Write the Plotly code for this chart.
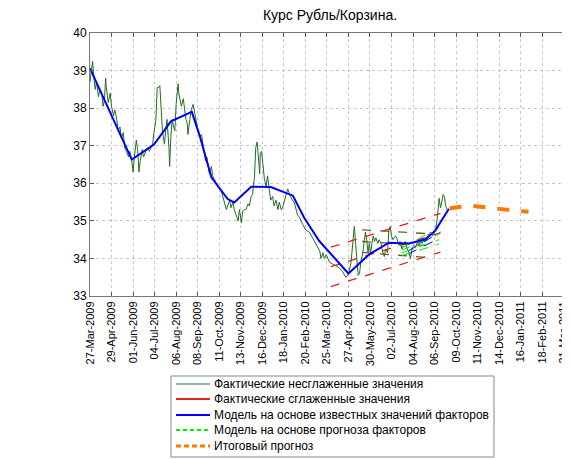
import plotly.graph_objects as go
import pandas as pd

# ---------------- data ----------------
start_date = "2009-03-27"
tick_step_days = 33
tick_labels = ["27-Mar-2009", "29-Apr-2009", "01-Jun-2009", "04-Jul-2009", "06-Aug-2009",
               "08-Sep-2009", "11-Oct-2009", "13-Nov-2009", "16-Dec-2009", "18-Jan-2010",
               "20-Feb-2010", "25-Mar-2010", "27-Apr-2010", "30-May-2010", "02-Jul-2010",
               "04-Aug-2010", "06-Sep-2010", "09-Oct-2010", "11-Nov-2010", "14-Dec-2010",
               "16-Jan-2011", "18-Feb-2011", "31-Mar-2011"]
axis_end_date = "2011-03-31"

# raw (unsmoothed) values: days since start_date, values
raw_days = [0, 2.5, 4, 6, 8, 10, 13, 15, 18, 20, 22, 24, 25, 28, 31, 33, 36, 38, 41, 43,
            46, 48, 51, 53, 56, 59, 61, 64, 66, 68, 71, 73, 75, 77, 80, 82, 85, 88, 91, 93,
            96, 98, 101, 103, 105, 107, 109, 111, 114, 116, 118, 121, 122, 124, 126, 128, 130, 132, 135, 136,
            138, 140, 143, 145, 147, 149, 150, 153, 155, 158, 160, 162, 164, 166, 168, 171, 173, 175, 177, 179,
            181, 183, 186, 188, 191, 193, 196, 201, 204, 206, 209, 211, 214, 216, 219, 221, 224, 227, 229, 232,
            234, 237, 239, 242, 244, 247, 249, 252, 254, 256, 258, 260, 261, 263, 265, 267, 270, 272, 275, 277,
            280, 282, 285, 288, 290, 293, 295, 298, 300, 303, 305, 308, 310, 313, 316, 318, 321, 326, 331, 336,
            341, 346, 352, 354, 357, 359, 362, 367, 372, 377, 382, 387, 392, 395, 397, 400, 402, 404, 405, 407,
            409, 411, 413, 415, 418, 420, 422, 424, 426, 428, 430, 432, 434, 436, 438, 441, 443, 446, 448, 451,
            453, 456, 458, 460, 462, 464, 468, 470, 473, 475, 478, 480, 483, 485, 489, 491, 494, 497, 499, 502,
            504, 507, 509, 512, 514, 517, 519, 522, 525, 527, 530, 532, 534, 535, 537, 538, 540, 541, 543, 545,
            547]
raw_values = [38.70, 39.00, 39.25, 38.80, 38.50, 38.70, 38.30, 38.50, 38.40, 38.05, 38.20, 38.80, 38.55, 38.15, 38.40, 38.05, 37.80, 37.95, 37.70, 37.40,
              37.50, 37.20, 37.35, 36.95, 36.85, 36.70, 36.85, 36.60, 36.30, 36.70, 37.15, 36.90, 36.30, 36.60, 36.90, 36.70, 36.85, 36.95, 36.85, 36.95,
              37.05, 37.35, 37.70, 38.55, 38.55, 38.60, 38.10, 37.40, 37.05, 37.35, 37.70, 36.95, 36.45, 37.25, 37.70, 37.50, 37.40, 38.10, 38.65, 38.40,
              38.20, 38.05, 38.25, 37.90, 37.70, 37.60, 37.30, 37.70, 37.95, 38.10, 37.90, 37.80, 37.60, 37.35, 37.25, 37.30, 37.05, 36.80, 36.60, 36.70,
              36.45, 36.25, 36.45, 36.20, 36.10, 36.00, 35.90, 35.80, 35.60, 35.50, 35.30, 35.40, 35.55, 35.35, 35.50, 35.30, 35.15, 35.00, 35.30, 34.95,
              35.25, 35.30, 35.30, 35.45, 35.40, 35.65, 35.70, 36.15, 36.95, 37.10, 36.70, 36.25, 36.80, 36.85, 36.50, 36.15, 35.90, 36.20, 35.80, 35.55,
              35.65, 35.40, 35.55, 35.30, 35.50, 35.30, 35.35, 35.55, 35.65, 35.85, 35.75, 35.60, 35.55, 35.50, 35.25, 35.15, 35.10, 34.90, 34.75, 34.70,
              34.55, 34.40, 34.20, 34.00, 34.15, 34.00, 34.10, 33.90, 33.85, 33.80, 33.75, 33.65, 33.50, 33.55, 33.65, 33.90, 34.30, 34.75, 34.85, 34.40,
              33.95, 33.55, 33.60, 33.90, 34.15, 34.40, 34.70, 34.50, 34.15, 34.40, 34.15, 34.40, 34.60, 34.45, 34.55, 34.40, 34.50, 34.40, 34.20, 34.05,
              34.25, 34.15, 34.75, 34.85, 34.60, 34.50, 34.60, 34.55, 34.35, 34.45, 34.25, 34.35, 34.45, 34.30, 34.15, 34.00, 34.30, 34.35, 34.30, 34.45,
              34.35, 34.45, 34.40, 34.50, 34.45, 34.55, 34.65, 34.70, 34.60, 34.65, 34.80, 35.05, 35.45, 35.60, 35.35, 35.40, 35.60, 35.70, 35.65, 35.40,
              35.30]

# model on known factor values
model_days = [0, 64, 98, 124, 156, 168, 186, 211, 221, 247, 277, 311, 328, 351, 396, 428, 458, 489, 514, 529, 550]
model_values = [39.06, 36.63, 37.03, 37.65, 37.90, 37.27, 36.16, 35.58, 35.49, 35.91, 35.90, 35.67, 35.09, 34.47, 33.60, 34.11, 34.42, 34.40, 34.51, 34.74, 35.32]

# final forecast
forecast_days = [551, 565, 585, 605, 625, 648, 672]
forecast_values = [35.33, 35.37, 35.40, 35.37, 35.32, 35.28, 35.24]

# smoothed actual values channel (red)
channel_days = [369, 537]
channel_upper = [34.30, 35.20]
channel_middle = [33.78, 34.68]
channel_lower = [33.25, 34.17]

# flat channel (olive)
flat_days = [417, 527]
flat_upper = [34.76, 34.65]
flat_middle = [34.45, 34.33]
flat_lower = [34.16, 34.01]

# model on forecast of factors (green dashed) and its blue dashed bounds
factor_days = [478, 535]
factor_line_1 = [34.28, 34.82]
factor_line_2 = [34.22, 34.65]
factor_line_3 = [34.15, 34.50]
factor_line_4 = [34.08, 34.38]
factor_blue_days = [488, 537]
factor_blue_1 = [34.20, 34.70]
factor_blue_2 = [34.12, 34.55]

legend_names = ["Фактические несглаженные значения",
                "Фактические сглаженные значения",
                "Модель на основе известных значений факторов",
                "Модель на основе прогноза факторов",
                "Итоговый прогноз"]

# --------------- helpers ---------------
t0 = pd.Timestamp(start_date)


def to_dates(days):
    return [t0 + pd.Timedelta(days=float(d)) for d in days]


tick_vals = [t0 + pd.Timedelta(days=tick_step_days * k) for k in range(len(tick_labels))]

fig = go.Figure()

GREEN = "rgb(34,110,34)"
RED = "rgb(230,30,30)"
BLUE = "rgb(0,0,255)"
LGREEN = "rgb(0,235,0)"
ORANGE = "rgb(255,120,0)"
OLIVE = "rgb(100,100,30)"

fig.add_trace(go.Scatter(x=to_dates(raw_days), y=raw_values, mode="lines",
                         line=dict(color=GREEN, width=1), name=legend_names[0]))

for ys in (channel_upper, channel_middle, channel_lower):
    fig.add_trace(go.Scatter(x=to_dates(channel_days), y=ys, mode="lines",
                             line=dict(color=RED, width=1.3, dash="dash"), name=legend_names[1]))
for ys in (flat_upper, flat_middle, flat_lower):
    fig.add_trace(go.Scatter(x=to_dates(flat_days), y=ys, mode="lines",
                             line=dict(color=OLIVE, width=1.3, dash="dash")))
for ys in (factor_blue_1, factor_blue_2):
    fig.add_trace(go.Scatter(x=to_dates(factor_blue_days), y=ys, mode="lines",
                             line=dict(color=BLUE, width=1, dash="dash")))
for ys in (factor_line_1, factor_line_2, factor_line_3, factor_line_4):
    fig.add_trace(go.Scatter(x=to_dates(factor_days), y=ys, mode="lines",
                             line=dict(color=LGREEN, width=1, dash="dash"), name=legend_names[3]))

fig.add_trace(go.Scatter(x=to_dates(model_days), y=model_values, mode="lines",
                         line=dict(color=BLUE, width=2), name=legend_names[2]))

fig.add_trace(go.Scatter(x=to_dates(forecast_days), y=forecast_values, mode="lines",
                         line=dict(color=ORANGE, width=4, dash="dash"), name=legend_names[4]))

FONT = "Liberation Sans, Arial, sans-serif"

# ---- legend box drawn in paper coordinates (compact MATLAB-style spacing) ----
leg_x0, leg_x1, leg_y0, leg_y1 = 0.1691, 0.8434, -0.3042, -0.6122
leg_rows = [-0.3346, -0.3916, -0.4525, -0.5095, -0.5703]
leg_styles = [dict(color=GREEN, width=1), dict(color=RED, width=2), dict(color=BLUE, width=2),
              dict(color=LGREEN, width=2, dash="4px,3px"), dict(color=ORANGE, width=3, dash="5px,3px")]
shapes = [dict(type="rect", xref="paper", yref="paper", x0=leg_x0, x1=leg_x1, y0=leg_y0, y1=leg_y1,
               line=dict(color="#888888", width=1), fillcolor="white", layer="above")]
annotations = []
for name, yy, st in zip(legend_names, leg_rows, leg_styles):
    shapes.append(dict(type="line", xref="paper", yref="paper", x0=0.1795, x1=0.2505, y0=yy, y1=yy,
                       line=st, layer="above"))
    annotations.append(dict(xref="paper", yref="paper", x=0.2550, y=yy, xanchor="left", yanchor="middle",
                            text=name, showarrow=False, font=dict(family=FONT, size=12, color="black")))

# page body has an 8px default margin, so the figure is sized to the visible area
fig.update_layout(
    width=562, height=451,
    margin=dict(l=82, r=1, t=25, b=163, autoexpand=False),
    paper_bgcolor="white", plot_bgcolor="white",
    font=dict(family=FONT, size=11, color="black"),
    title=dict(text="Курс Рубль/Корзина.", x=0.573, xanchor="center", y=0.985, yanchor="middle",
               font=dict(family=FONT, size=14, color="black")),
    showlegend=False,
    shapes=shapes, annotations=annotations,
)

fig.update_xaxes(
    type="date",
    range=[t0, pd.Timestamp(axis_end_date)],
    tickmode="array", tickvals=tick_vals, ticktext=tick_labels,
    tickangle=-90, ticks="inside", ticklen=4, tickcolor="#555555",
    ticklabeloverflow="allow",
    showgrid=True, gridcolor="#c8c8c8", griddash="dot", gridwidth=1,
    showline=True, linecolor="#777777", linewidth=1, mirror="ticks",
    zeroline=False, tickfont=dict(family=FONT, size=11, color="black"),
    automargin=False,
)
fig.update_yaxes(
    range=[33, 40], tickmode="linear", tick0=33, dtick=1,
    ticks="inside", ticklen=4, tickcolor="#555555",
    showgrid=True, gridcolor="#c8c8c8", griddash="dot", gridwidth=1,
    showline=True, linecolor="#777777", linewidth=1, mirror="ticks",
    zeroline=False, tickfont=dict(family=FONT, size=12, color="black"),
    automargin=False,
)

fig.write_html("out.html")
